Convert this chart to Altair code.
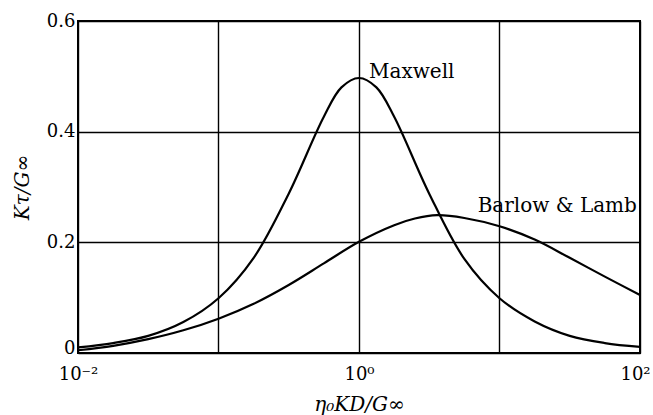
import altair as alt
import pandas as pd

# Maxwell curve: relative loss vs. reduced frequency
maxwell_x = [0.01, 0.0178, 0.0316, 0.0562, 0.1, 0.178, 0.316, 0.562, 0.75, 1.0,
             1.33, 1.78, 3.16, 5.62, 10, 17.8, 31.6, 56.2, 100]
maxwell_y = [0.010, 0.018, 0.031, 0.056, 0.099, 0.172, 0.288, 0.427, 0.480, 0.497,
             0.480, 0.427, 0.288, 0.170, 0.099, 0.057, 0.031, 0.018, 0.011]

# Barlow & Lamb curve
barlow_x = [0.01, 0.0178, 0.0316, 0.0562, 0.1, 0.178, 0.316, 0.562, 1.0, 1.78,
            2.5, 3.6, 5.62, 10, 17.8, 31.6, 56.2, 100]
barlow_y = [0.005, 0.013, 0.025, 0.041, 0.062, 0.089, 0.123, 0.162, 0.201, 0.231,
            0.243, 0.249, 0.244, 0.229, 0.205, 0.172, 0.138, 0.105]

# Curve labels
label_text = ["Maxwell", "Barlow & Lamb"]
label_x = [1.14, 95]
label_y = [0.497, 0.255]
label_align = ["left", "right"]

x_ticks = [0.01, 0.1, 1, 10, 100]
y_ticks = [0, 0.2, 0.4, 0.6]

curves = pd.concat([
    pd.DataFrame({"x": maxwell_x, "y": maxwell_y, "series": "Maxwell"}),
    pd.DataFrame({"x": barlow_x, "y": barlow_y, "series": "Barlow & Lamb"}),
])
labels = pd.DataFrame({"x": label_x, "y": label_y, "text": label_text, "align": label_align})

FONT = "DejaVu Serif"

x_scale = alt.Scale(type="log", domain=[0.01, 100], nice=False)
y_scale = alt.Scale(domain=[0, 0.6], nice=False)

x_axis = alt.Axis(
    values=x_ticks,
    labelExpr="datum.value == 0.01 ? '10⁻²' : datum.value == 1 ? '10⁰' : datum.value == 100 ? '10²' : ''",
    labelOffset={"condition": {"test": "datum.value === 100", "value": -5}, "value": 0},
    grid=True, gridColor="black", gridWidth=1.4, gridOpacity=1,
    domain=False, ticks=False,
    labelFont=FONT, labelFontSize=18, labelColor="black", labelPadding=12,
    labelFlush=False, labelOverlap=False,
    title="η₀KD/G∞", titleFont=FONT, titleFontStyle="italic", titleFontWeight="normal",
    titleFontSize=20, titleColor="black", titlePadding=11,
)
y_axis = alt.Axis(
    values=y_ticks,
    labelExpr="datum.value == 0 ? '0' : format(datum.value, '.1f')",
    labelBaseline={"condition": {"test": "datum.value === 0", "value": "alphabetic"}, "value": "middle"},
    grid=True, gridColor="black", gridWidth=1.4, gridOpacity=1,
    domain=False, ticks=False,
    labelFont=FONT, labelFontSize=18, labelColor="black", labelPadding=3,
    labelFlush=False,
    title="Kτ/G∞", titleFont=FONT, titleFontStyle="italic", titleFontWeight="normal",
    titleFontSize=20, titleColor="black", titlePadding=14,
)

lines = alt.Chart(curves).mark_line(
    color="black", strokeWidth=2.2, interpolate="catmull-rom", clip=True
).encode(
    x=alt.X("x:Q", scale=x_scale, axis=x_axis),
    y=alt.Y("y:Q", scale=y_scale, axis=y_axis),
    detail="series:N",
)

texts_left = alt.Chart(labels[labels["align"] == "left"]).mark_text(
    font=FONT, fontSize=20, color="black", align="left", baseline="alphabetic", dx=2
).encode(x=alt.X("x:Q", scale=x_scale), y=alt.Y("y:Q", scale=y_scale), text="text:N")

texts_right = alt.Chart(labels[labels["align"] == "right"]).mark_text(
    font=FONT, fontSize=20, color="black", align="right", baseline="alphabetic"
).encode(x=alt.X("x:Q", scale=x_scale), y=alt.Y("y:Q", scale=y_scale), text="text:N")

chart = alt.layer(lines, texts_left, texts_right).properties(
    width=562, height=332,
    autosize=alt.AutoSizeParams(type="none"),
    padding={"left": 78, "top": 21, "right": 13, "bottom": 62},
    background="white",
).configure_view(stroke="black", strokeWidth=2)

chart.save("out.html", embed_options={"renderer": "svg", "actions": False})
